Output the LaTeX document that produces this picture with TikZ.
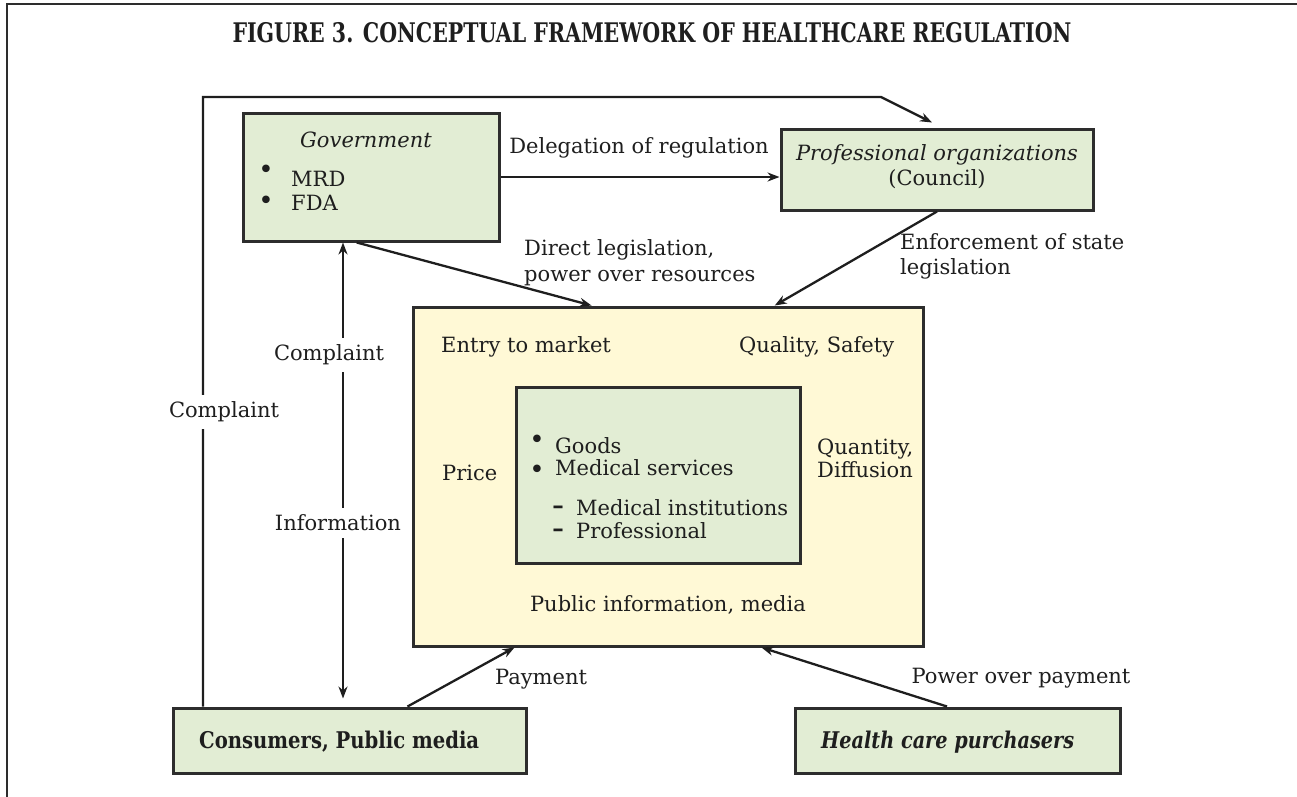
\documentclass[tikz,border=0pt]{standalone}
\usepackage{fontspec}
\usepackage{graphicx}
\setmainfont{DejaVu Serif}
\usetikzlibrary{arrows.meta,calc}
\definecolor{boxgreen}{RGB}{226,237,212}
\definecolor{boxyellow}{RGB}{255,249,214}
\definecolor{edge}{RGB}{45,45,45}
\definecolor{ink}{RGB}{30,30,30}
\newcommand{\hfit}[2]{\resizebox{#1}{\height}{#2}}
\begin{document}
\begin{tikzpicture}[x=1pt,y=-1pt,
  box/.style={draw=edge,line width=3pt,inner sep=0pt},
  arr/.style={draw=ink,line width=2.3pt,-{Stealth[length=12pt,width=9pt]}},
  darr/.style={draw=ink,line width=2.3pt,{Stealth[length=12pt,width=9pt]}-{Stealth[length=12pt,width=9pt]}},
  lbl/.style={inner sep=0pt,text=ink,font=\fontsize{21}{25}\selectfont},
  bul/.style={inner sep=0pt,text=ink,font=\fontsize{26}{26}\selectfont},
  cut/.style={lbl,fill=white,inner xsep=2pt,inner ysep=7pt},
  frame/.style={draw=edge,line width=2.5pt}
]
\useasboundingbox (0,0) rectangle (1297,796);
% outer frame
\draw[frame] (7,800) -- (7,4) -- (1300,4);
% title
\node[lbl,font=\fontsize{27}{30}\bfseries\selectfont] (title) at (652,33)
  {\hfit{839pt}{FIGURE 3. CONCEPTUAL FRAMEWORK OF HEALTHCARE REGULATION}};

% boxes
\node[box,fill=boxgreen,minimum width=256pt,minimum height=128pt] (gov) at (371,177) {};
\node[box,fill=boxgreen,minimum width=312pt,minimum height=81pt] (prof) at (937,169.5) {};
\node[box,fill=boxyellow,minimum width=510pt,minimum height=339pt] (mkt) at (668,476.5) {};
\node[box,fill=boxgreen,minimum width=284pt,minimum height=176pt] (goods) at (658,475) {};
\node[box,fill=boxgreen,minimum width=353pt,minimum height=65pt] (cons) at (349.5,740.5) {};
\node[box,fill=boxgreen,minimum width=325pt,minimum height=65pt] (hcp) at (958,740.5) {};

% government texts
\node[lbl,font=\fontsize{21}{25}\itshape\selectfont] (govt) at (366,140) {Government};
\node[bul] (b1) at (266,172) {•};
\node[bul] (b2) at (266,203) {•};
\node[lbl,anchor=west] (mrd) at (291,179) {MRD};
\node[lbl,anchor=west] (fda) at (291,203) {FDA};
% professional
\node[lbl,align=center] (proft) at (937,167)
  {{\itshape Professional organizations}\\(Council)};
% market texts
\node[lbl,anchor=west] (entry) at (441,347) {Entry to market};
\node[lbl,anchor=west] (qual) at (739,347) {Quality, Safety};
\node[lbl,anchor=west] (price) at (442,473) {Price};
\node[lbl,anchor=west,align=left,font=\fontsize{21}{23}\selectfont] (quant) at (817,458) {Quantity,\\Diffusion};
\node[lbl] (public) at (668,605) {Public information, media};
% goods texts
\node[bul] (g1) at (537,442) {•};
\node[bul] (g2) at (537,472) {•};
\node[lbl,anchor=west] (gd) at (555,446) {Goods};
\node[lbl,anchor=west] (ms) at (555,468) {Medical services};
\node[lbl,font=\fontsize{23}{25}\bfseries\selectfont] (d1) at (558,510) {–};
\node[lbl,font=\fontsize{23}{25}\bfseries\selectfont] (d2) at (558,533) {–};
\node[lbl,anchor=west] (mi) at (576,508) {Medical institutions};
\node[lbl,anchor=west] (pr) at (576,531) {Professional};
% bottom box texts
\node[lbl,anchor=west,font=\fontsize{23}{25}\bfseries\selectfont] (const) at (199,742)
  {\hfit{280pt}{Consumers, Public media}};
\node[lbl,anchor=west,font=\fontsize{23}{25}\bfseries\itshape\selectfont] (hcpt) at (821,742)
  {\hfit{253pt}{Health care purchasers}};

% connectors
\coordinate (vx) at (343,0);
\coordinate (fb) at (881,97);
\coordinate (lx) at (203,0);
\draw[arr] (gov.east) -- (gov.east -| prof.west);
\draw[arr] ($(gov.south west)!0.445!(gov.south east)$) -- ($(mkt.north west)!0.351!(mkt.north east)$);
\draw[arr] (prof.south) -- ($(mkt.north west)!0.708!(mkt.north east)$);
\draw[arr] (lx |- cons.north) -- (lx |- fb) -- (fb) -- ($(prof.north)+(-5,-5)$);
\draw[darr] (vx |- gov.south) -- ($(vx |- cons.north)+(0,-8)$);
\draw[arr] ($(cons.north west)+(236,0)$) -- ($(mkt.south west)+(103,0)$);
\draw[arr] ($(hcp.north west)+(153,0)$) -- ($(mkt.south west)+(350,0)$);

% connector labels
\node[lbl] (deleg) at (639,148) {Delegation of regulation};
\node[lbl,anchor=west,align=left,font=\fontsize{21}{26}\selectfont] (direct) at (524,263) {Direct legislation,\\power over resources};
\node[lbl,anchor=west,align=left] (enf) at (900,256) {Enforcement of state\\legislation};
\node[cut] (compl1) at (329,355) {Complaint};
\node[cut] (info) at (338,523) {Information};
\node[cut] (compl2) at (224,412) {Complaint};
\node[lbl] (pay) at (541,679) {Payment};
\node[lbl] (pop) at (1021,678) {Power over payment};
\end{tikzpicture}
\end{document}
